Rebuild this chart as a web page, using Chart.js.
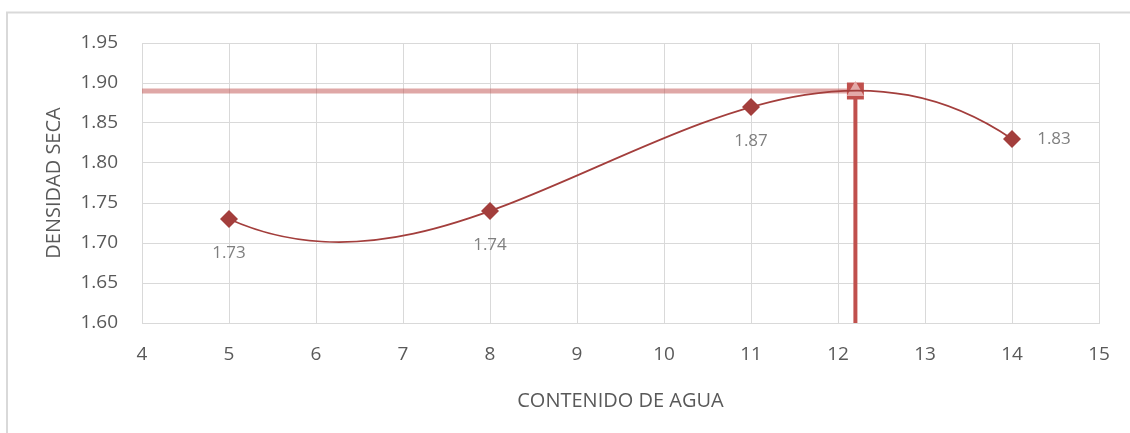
<!DOCTYPE html>
<html>
<head>
<meta charset="utf-8">
<title>Densidad seca vs contenido de agua</title>
<script src="https://cdn.jsdelivr.net/npm/chart.js@4/dist/chart.umd.min.js"></script>
<style>
  html, body { margin: 0; padding: 0; background: #ffffff; }
  #wrap { width: 1130px; height: 433px; position: relative; }
</style>
</head>
<body>
<div id="wrap"><canvas id="chart" width="1130" height="433"></canvas></div>
<script>
// Compaction test results
const moisture = [5, 8, 11, 14];              // CONTENIDO DE AGUA
const dryDensity = [1.73, 1.74, 1.87, 1.83];  // DENSIDAD SECA

// Optimum
const optimumMoisture = 12.2;
const maxDryDensity = 1.89;

// Axis ticks
const xTickValues = [4, 5, 6, 7, 8, 9, 10, 11, 12, 13, 14, 15];
const yTickValues = [1.60, 1.65, 1.70, 1.75, 1.80, 1.85, 1.90, 1.95];

const xMin = xTickValues[0], xMax = xTickValues[xTickValues.length - 1];
const yMin = yTickValues[0], yMax = yTickValues[yTickValues.length - 1];

const FONT = "'Open Sans', 'Noto Sans', sans-serif";
const curveColor = '#A33E3C';
const guideColor = '#C0504D';
const guideLight = 'rgba(192, 80, 77, 0.5)';

// Least-squares polynomial (degree 3) trendline, fitted on a normalised x in [0, 1]
function polyFit(xs, ys, degree) {
  const lo = Math.min(...xs), hi = Math.max(...xs);
  const s = xs.map(x => (x - lo) / (hi - lo));
  const n = degree + 1;
  const A = Array.from({ length: n }, () => new Array(n + 1).fill(0));
  s.forEach((si, k) => {
    for (let r = 0; r < n; r++) {
      for (let c = 0; c < n; c++) A[r][c] += Math.pow(si, r + c);
      A[r][n] += Math.pow(si, r) * ys[k];
    }
  });
  for (let i = 0; i < n; i++) {
    let p = i;
    for (let r = i + 1; r < n; r++) if (Math.abs(A[r][i]) > Math.abs(A[p][i])) p = r;
    [A[i], A[p]] = [A[p], A[i]];
    for (let r = 0; r < n; r++) {
      if (r === i) continue;
      const f = A[r][i] / A[i][i];
      for (let c = i; c <= n; c++) A[r][c] -= f * A[i][c];
    }
  }
  return { lo, hi, coef: A.map((row, i) => row[n] / row[i]) };
}

// Trendline drawn as one exact cubic Bezier (Bernstein form of the fitted polynomial)
const trendlinePlugin = {
  id: 'trendline',
  beforeDatasetDraw(chart, args) {
    if (args.index !== 0) return;
    const ds = chart.data.datasets[0].data;
    const fit = polyFit(ds.map(p => p.x), ds.map(p => p.y), 3);
    const [a0, a1, a2, a3] = fit.coef;
    const b = [a0, a0 + a1 / 3, a0 + (2 * a1) / 3 + a2 / 3, a0 + a1 + a2 + a3];
    const xs = [0, 1, 2, 3].map(k => fit.lo + (k / 3) * (fit.hi - fit.lo));
    const sx = chart.scales.x, sy = chart.scales.y;
    const P = xs.map((x, k) => [sx.getPixelForValue(x), sy.getPixelForValue(b[k])]);
    const ctx = chart.ctx;
    ctx.save();
    ctx.beginPath();
    ctx.moveTo(P[0][0], P[0][1]);
    ctx.bezierCurveTo(P[1][0], P[1][1], P[2][0], P[2][1], P[3][0], P[3][1]);
    ctx.strokeStyle = curveColor;
    ctx.lineWidth = 1.75;
    ctx.stroke();
    ctx.restore();
  }
};

// Outer frame around the chart region
const framePlugin = {
  id: 'frame',
  beforeDraw(chart) {
    const ctx = chart.ctx;
    ctx.save();
    ctx.strokeStyle = '#D9D9D9';
    ctx.lineWidth = 2;
    ctx.strokeRect(7, 12.5, chart.width + 10, chart.height + 10);
    ctx.restore();
  }
};

// Value labels next to the measured points
const valueLabelPlugin = {
  id: 'valueLabels',
  afterDatasetsDraw(chart, args, opts) {
    const meta = chart.getDatasetMeta(0);
    const ctx = chart.ctx;
    ctx.save();
    ctx.font = '17px ' + FONT;
    ctx.fillStyle = '#7F7F7F';
    ctx.textAlign = 'center';
    ctx.textBaseline = 'middle';
    meta.data.forEach((pt, i) => {
      const v = chart.data.datasets[0].data[i].y;
      const off = opts.offsets[i] || [0, 34];
      ctx.fillText(v.toFixed(2), pt.x + off[0], pt.y + off[1]);
    });
    ctx.restore();
  }
};

const points = moisture.map((x, i) => ({ x, y: dryDensity[i] }));

new Chart(document.getElementById('chart'), {
  type: 'scatter',
  data: {
    datasets: [
      {
        label: 'Densidad seca',
        data: points,
        showLine: false,
        backgroundColor: curveColor,
        pointStyle: 'rectRot',
        pointRadius: 9,
        pointHoverRadius: 9,
        pointBorderWidth: 0,
        order: 1
      },
      {
        label: 'Densidad máxima',
        data: [{ x: xMin, y: maxDryDensity }, { x: optimumMoisture, y: maxDryDensity }],
        showLine: true,
        borderColor: guideLight,
        borderWidth: 5,
        pointRadius: 0,
        order: 4
      },
      {
        label: 'Humedad óptima',
        data: [{ x: optimumMoisture, y: yMin }, { x: optimumMoisture, y: maxDryDensity }],
        showLine: true,
        borderColor: guideColor,
        borderWidth: 4,
        pointRadius: 0,
        order: 5
      },
      {
        label: 'Óptimo',
        data: [{ x: optimumMoisture, y: maxDryDensity }],
        pointStyle: 'rect',
        pointRadius: 12,
        backgroundColor: guideColor,
        borderWidth: 0,
        order: 3
      },
      {
        label: 'Óptimo (marca)',
        data: [{ x: optimumMoisture, y: maxDryDensity }],
        pointStyle: 'triangle',
        pointRadius: 10,
        backgroundColor: '#E3A9A8',
        borderWidth: 0,
        order: 2
      }
    ]
  },
  options: {
    responsive: false,
    animation: false,
    events: [],
    layout: { padding: { left: 8, top: 43, right: 31, bottom: 10 } },
    plugins: {
      legend: { display: false },
      tooltip: { enabled: false },
      valueLabels: { offsets: [[0, 34], [0, 34], [0, 34], [42, 0]] }
    },
    scales: {
      x: {
        type: 'linear',
        min: xMin,
        max: xMax,
        afterBuildTicks: s => { s.ticks = xTickValues.map(v => ({ value: v })); },
        afterFit: s => { s.height = 100; },
        grid: { color: '#D9D9D9', lineWidth: 1, drawTicks: false },
        border: { color: '#D9D9D9', width: 1 },
        ticks: {
          padding: 20,
          color: '#595959',
          font: { family: FONT, size: 19 },
          callback: v => String(v)
        },
        title: {
          display: true,
          text: 'CONTENIDO DE AGUA',
          color: '#595959',
          font: { family: FONT, size: 20 },
          padding: { top: 0, bottom: 10 }
        }
      },
      y: {
        type: 'linear',
        min: yMin,
        max: yMax,
        afterBuildTicks: s => { s.ticks = yTickValues.map(v => ({ value: v })); },
        afterFit: s => { s.width = 134; },
        grid: { color: '#D9D9D9', lineWidth: 1, drawTicks: false },
        border: { color: '#D9D9D9', width: 1 },
        ticks: {
          padding: 24,
          color: '#595959',
          font: { family: FONT, size: 19 },
          callback: v => Number(v).toFixed(2)
        },
        title: {
          display: true,
          text: 'DENSIDAD SECA',
          color: '#595959',
          font: { family: FONT, size: 20 },
          padding: { top: 34, bottom: 0 }
        }
      }
    }
  },
  plugins: [framePlugin, trendlinePlugin, valueLabelPlugin]
});
</script>
</body>
</html>
